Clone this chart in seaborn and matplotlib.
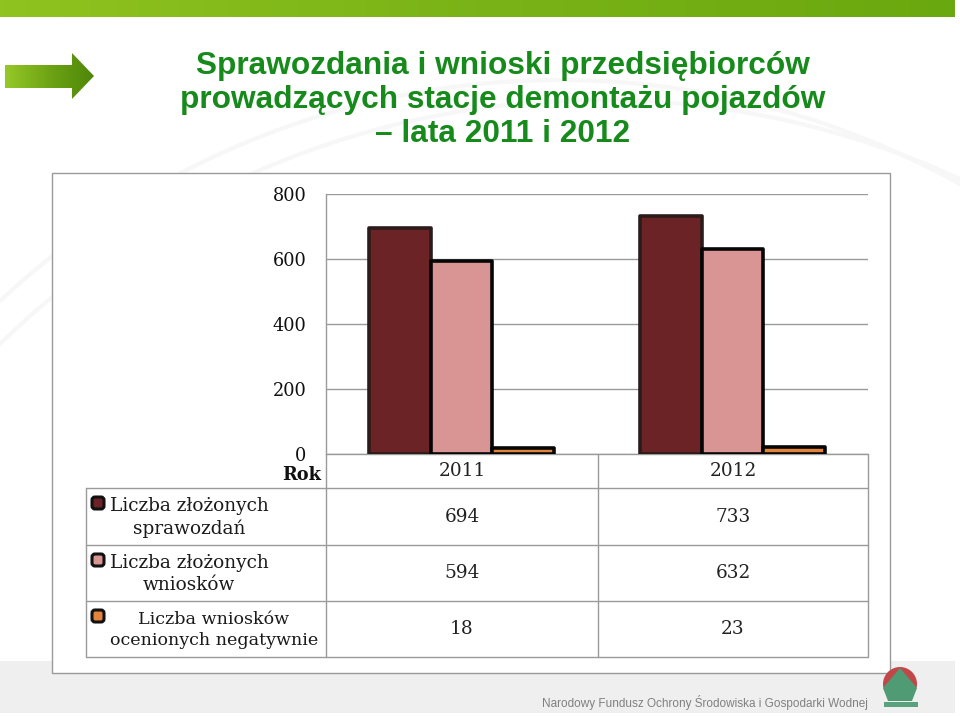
import numpy as np
import pandas as pd
import matplotlib
matplotlib.use("Agg")
import matplotlib.pyplot as plt
import seaborn as sns
from matplotlib.colors import LinearSegmentedColormap
from matplotlib.patches import Rectangle, Polygon, Circle, FancyBboxPatch

# ---------------- data ----------------
years = ["2011", "2012"]
series = ["Liczba złożonych sprawozdań",
          "Liczba złożonych wniosków",
          "Liczba wniosków ocenionych negatywnie"]
series_labels = ["Liczba złożonych\nsprawozdań",
                 "Liczba złożonych\nwniosków",
                 "Liczba wniosków\nocenionych negatywnie"]
sprawozdania = [694, 733]
wnioski = [594, 632]
negatywne = [18, 23]
y_ticks = [0, 200, 400, 600, 800]
header_label = "Rok"
title_lines = ["Sprawozdania i wnioski przedsiębiorców",
               "prowadzących stacje demontażu pojazdów",
               "– lata 2011 i 2012"]
footer_text = "Narodowy Fundusz Ochrony Środowiska i Gospodarki Wodnej"

bar_colors = ["#6b2325", "#d99594", "#e2843c"]
edge_colors = ["#2b1b1b", "#060606", "#060606"]

values = [sprawozdania, wnioski, negatywne]
df = pd.DataFrame({
    "Rok": [y for s in series for y in years],
    "Seria": [s for s in series for _ in years],
    "Wartość": [v for vals in values for v in vals],
})

sns.set_theme(style="white")
plt.rcParams["font.family"] = ["DejaVu Serif"]

W, H = 960, 716
fig = plt.figure(figsize=(9.6, 7.16), dpi=100)
fig.patch.set_facecolor("white")

# overlay axes in pixel coordinates
ov = fig.add_axes([0, 0, 1, 1], zorder=0)
ov.set_xlim(0, W)
ov.set_ylim(H, 0)
ov.axis("off")

# faint background arcs
for cx, cy, r in [(560, 900, 820), (600, 960, 860)]:
    ov.add_patch(Circle((cx, cy), r, fill=False, ec="#f7f7f7", lw=3, zorder=0))

# top green bar (gradient)
gcm = LinearSegmentedColormap.from_list("g", ["#8fc31f", "#7ab317", "#6aa80f"])
grad = np.linspace(0, 1, 256).reshape(1, -1)
ov.imshow(grad, cmap=gcm, extent=[0, 955, 17, 0], aspect="auto", zorder=1)

# arrow with gradient
acm = LinearSegmentedColormap.from_list("a", ["#96c828", "#6ea414", "#4e860a"])
arrow = Polygon([(5, 65), (72, 65), (72, 53), (94, 76), (72, 99), (72, 88), (5, 88)],
                closed=True, fc="none", ec="none")
ov.add_patch(arrow)
im = ov.imshow(grad, cmap=acm, extent=[5, 94, 99, 53], aspect="auto", zorder=2)
im.set_clip_path(arrow)

# title
for i, line in enumerate(title_lines):
    ov.text(503, 66 + i * 34, line, ha="center", va="center",
            fontsize=22.8, fontweight="bold", color="#178a1c",
            family=["Liberation Sans", "DejaVu Sans"], zorder=3)

# footer band
ov.add_patch(Rectangle((0, 661), 955, 52, fc="#efefef", ec="none", zorder=1))
ov.text(868, 702, footer_text, ha="right", va="center", fontsize=8.5,
        color="#808080", family=["Liberation Sans", "DejaVu Sans"], zorder=3)

# logo
ov.add_patch(Circle((900, 684), 17, fc="#c2474a", ec="none", zorder=3))
ov.add_patch(Polygon([(900, 668), (917, 688), (912, 701), (888, 701), (883, 688)],
                     closed=True, fc="#4f9c74", ec="none", zorder=4))
ov.add_patch(Rectangle((884, 702), 34, 5, fc="#5aa27c", ec="none", zorder=4))

# chart frame
ov.add_patch(Rectangle((52, 173), 838, 500, fc="white", ec="#9a9a9a", lw=1.0, zorder=2))

# ---------------- bar chart ----------------
px_l, px_r, px_top, px_bot = 326, 868, 194, 454
ax = fig.add_axes([px_l / W, 1 - px_bot / H, (px_r - px_l) / W, (px_bot - px_top) / H], zorder=2)
ax.set_facecolor("none")
sns.barplot(data=df, x="Rok", y="Wartość", hue="Seria", order=years, hue_order=series,
            palette=bar_colors, width=0.68, ax=ax, legend=False, errorbar=None,
            saturation=1)
for cont, ec in zip(ax.containers, edge_colors):
    for p in cont:
        p.set_edgecolor(ec)
        p.set_linewidth(2.6)
        p.set_joinstyle("round")
        p.set_zorder(3)

ax.set_ylim(0, 800)
ax.set_xlim(-0.5, 1.5)
ax.set_yticks(y_ticks)
ax.set_yticklabels([str(t) for t in y_ticks], fontsize=12.8, color="#111111")
ax.tick_params(axis="y", length=0, pad=14)
ax.set_xticks([])
ax.set_xlabel("")
ax.set_ylabel("")
ax.grid(axis="y", color="#9a9a9a", lw=1.0)
ax.set_axisbelow(True)
for s in ["top", "right", "bottom"]:
    ax.spines[s].set_visible(False)
ax.spines["left"].set_color("#9a9a9a")
ax.spines["left"].set_linewidth(1.0)

# ---------------- data table ----------------
line_kw = dict(color="#9a9a9a", lw=1.0, zorder=3)
col_x = [86, 326, 598, 868]
row_y = [454, 488, 545, 601, 657]
ov.plot([326, 868], [454, 454], **line_kw)
for yy in row_y[1:]:
    ov.plot([86, 868], [yy, yy], **line_kw)
ov.plot([86, 86], [488, 657], **line_kw)
ov.plot([326, 326], [454, 657], **line_kw)
ov.plot([598, 598], [454, 657], **line_kw)
ov.plot([868, 868], [454, 657], **line_kw)

tfs = 13.3
ov.text(321, 475, header_label, ha="right", va="center", fontsize=12.8,
        fontweight="bold", color="#111111", zorder=4)
col_centers = [(col_x[1] + col_x[2]) / 2, (col_x[2] + col_x[3]) / 2]
for j, yr in enumerate(years):
    ov.text(col_centers[j], 471, yr, ha="center", va="center", fontsize=tfs,
            color="#222222", zorder=4)

label_cx = [189, 189, 214]
label_fs = [13.3, 13.3, 12.6]
for i, (lab, vals) in enumerate(zip(series_labels, values)):
    y0, y1 = row_y[i + 1], row_y[i + 2]
    yc = (y0 + y1) / 2
    ov.add_patch(FancyBboxPatch((92, y0 + 9), 12, 12,
                                boxstyle="round,pad=0,rounding_size=3",
                                fc=bar_colors[i], ec="#111111", lw=2.2, zorder=4))
    ov.text(label_cx[i], yc + 1, lab, ha="center", va="center", fontsize=label_fs[i],
            color="#1a1a1a", linespacing=1.3, zorder=4)
    for j, v in enumerate(vals):
        ov.text(col_centers[j], yc, str(v), ha="center", va="center",
                fontsize=tfs, color="#222222", zorder=4)

fig.savefig("out.png", dpi=100)
